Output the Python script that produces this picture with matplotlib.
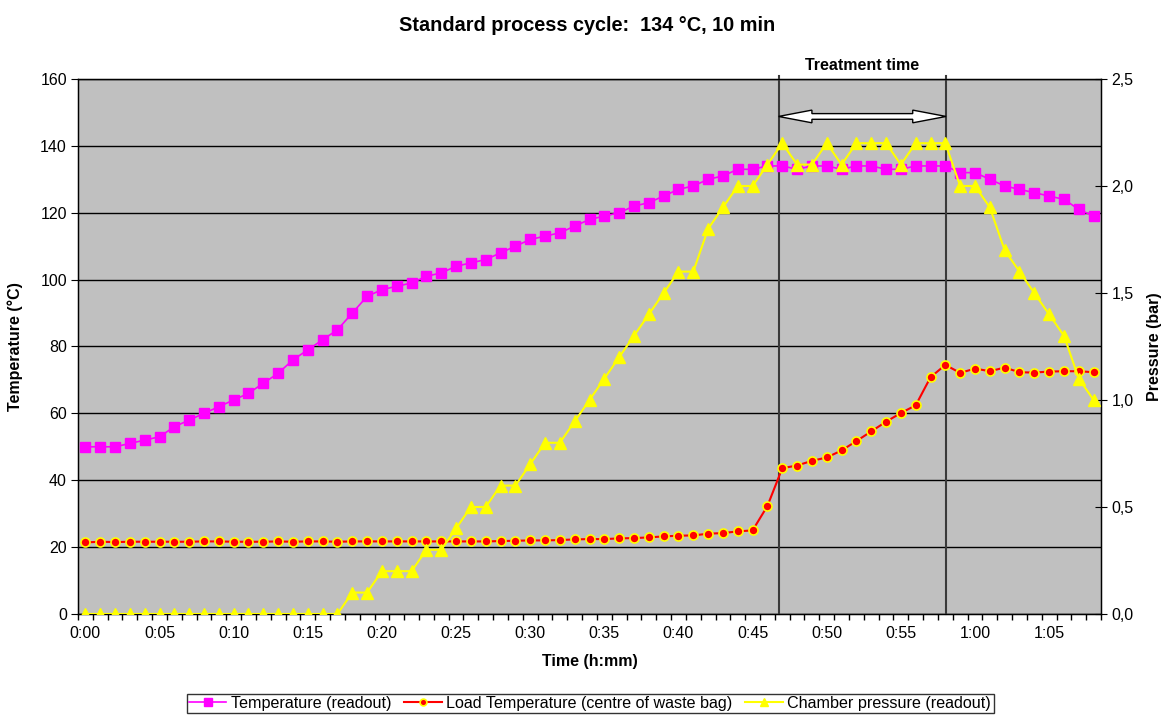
import matplotlib
matplotlib.use("Agg")
import matplotlib.pyplot as plt
from matplotlib.patches import Polygon
from matplotlib.ticker import FuncFormatter, MultipleLocator

plt.rcParams['font.family'] = ['Liberation Sans', 'DejaVu Sans']

# one reading per minute, 0:00 .. 1:08
minutes = list(range(69))
tick_minutes = [0, 5, 10, 15, 20, 25, 30, 35, 40, 45, 50, 55, 60, 65]
tick_labels = ["0:00", "0:05", "0:10", "0:15", "0:20", "0:25", "0:30",
               "0:35", "0:40", "0:45", "0:50", "0:55", "1:00", "1:05"]

temp_readout = [50, 50, 50, 51, 52, 53, 56, 58, 60, 62, 64, 66, 69, 72, 76, 79, 82, 85,
                90, 95, 97, 98,
                99, 101, 102, 104, 105, 106, 108, 110, 112, 113, 114, 116, 118, 119, 120,
                122, 123, 125, 127, 128, 130, 131, 133, 133, 134, 134, 133,
                134, 134, 133, 134, 134, 133, 133, 134, 134, 134,
                132, 132, 130, 128, 127, 126, 125, 124, 121, 119]

load_temp = [21.4, 21.6, 21.5, 21.6, 21.6, 21.6, 21.6, 21.6, 21.7, 21.7,
             21.6, 21.6, 21.6, 21.7, 21.6, 21.7, 21.7, 21.6, 21.7, 21.7,
             21.7, 21.7, 21.7, 21.7, 21.7, 21.7, 21.7, 21.7, 21.8, 21.9,
             22.0, 22.0, 22.1, 22.3, 22.4, 22.4, 22.6, 22.7, 22.9, 23.2,
             23.4, 23.5, 24.0, 24.2, 24.7, 25.0, 32.3, 43.6, 44.4, 45.8,
             46.8, 48.9, 51.7, 54.6, 57.5, 60.1, 62.4, 70.8, 74.5, 72.1,
             73.4, 72.6, 73.7, 72.3, 72.2, 72.5, 72.6, 72.6, 72.3]

pressure = [0, 0, 0, 0, 0, 0, 0, 0, 0, 0, 0, 0, 0, 0, 0, 0, 0, 0,
            0.1, 0.1, 0.2, 0.2, 0.2, 0.3, 0.3, 0.4, 0.5, 0.5, 0.6, 0.6,
            0.7, 0.8, 0.8, 0.9, 1.0, 1.1, 1.2, 1.3, 1.4, 1.5, 1.6, 1.6,
            1.8, 1.9, 2.0, 2.0, 2.1, 2.2, 2.1, 2.1, 2.2, 2.1, 2.2, 2.2,
            2.2, 2.1, 2.2, 2.2, 2.2, 2.0, 2.0, 1.9, 1.7, 1.6, 1.5, 1.4,
            1.3, 1.1, 1.0]

treat_start = 46.75
treat_end = 58.05
arrow_level = 148.8

fig = plt.figure(figsize=(11.64, 7.15), dpi=100)
ax = fig.add_axes([0.067, 0.1413, 0.8789, 0.7482])
ax.set_facecolor('#C0C0C0')

ax.plot(minutes, temp_readout, color='#FF00FF', lw=1.2, marker='s', ms=7.5,
        mec='#FF00FF', mfc='#FF00FF', zorder=4, label='Temperature (readout)')
ax.plot(minutes, load_temp, color='#FF0000', lw=1.5, marker='o', ms=6.5,
        mfc='#FF0000', mec='#FFFF00', mew=1.2, zorder=5,
        label='Load Temperature (centre of waste bag)')

ax.set_xlim(-0.5, 68.5)
ax.set_ylim(0, 160)
ax.set_yticks(range(0, 161, 20))
ax.yaxis.grid(True, color='black', lw=1)
ax.set_axisbelow(True)
ax.set_xticks(tick_minutes)
ax.set_xticklabels(tick_labels)
ax.xaxis.set_minor_locator(MultipleLocator(1, offset=0.5))
ax.tick_params(axis='x', which='major', length=0, labelsize=11.5, pad=9)
ax.tick_params(axis='x', which='minor', length=4, direction='out', width=1)
ax.tick_params(axis='y', length=5, direction='out', labelsize=11.5, pad=3)
for sp in ax.spines.values():
    sp.set_color('black')
    sp.set_linewidth(1)

# treatment window
for xv in (treat_start, treat_end):
    ax.axvline(xv, ymax=1.005, color='#3A3A3A', lw=1.5, zorder=3, clip_on=False)
head_len = 2.25
head_h = 1.9
shaft_h = 0.85
arrow = Polygon([(treat_start, arrow_level),
                 (treat_start + head_len, arrow_level + head_h),
                 (treat_start + head_len, arrow_level + shaft_h),
                 (treat_end - head_len, arrow_level + shaft_h),
                 (treat_end - head_len, arrow_level + head_h),
                 (treat_end, arrow_level),
                 (treat_end - head_len, arrow_level - head_h),
                 (treat_end - head_len, arrow_level - shaft_h),
                 (treat_start + head_len, arrow_level - shaft_h),
                 (treat_start + head_len, arrow_level - head_h)],
                closed=True, facecolor='white', edgecolor='black', lw=1, zorder=6)
ax.add_patch(arrow)
ax.text((treat_start + treat_end) / 2, 1.012, 'Treatment time', transform=ax.get_xaxis_transform(),
        ha='center', va='bottom', fontsize=11.5, fontweight='bold')

ax.set_xlabel('Time (h:mm)', fontsize=11.5, fontweight='bold', labelpad=9)
ax.set_ylabel('Temperature (°C)', fontsize=11.5, fontweight='bold', labelpad=12)

ax2 = ax.twinx()
ax2.plot(minutes, pressure, color='#FFFF00', lw=1.5, marker='^', ms=8,
         mfc='#FFFF00', mec='#FFFF00', zorder=5, label='Chamber pressure (readout)')
ax2.set_ylim(0, 2.5)
ax2.set_yticks([0, 0.5, 1.0, 1.5, 2.0, 2.5])
ax2.yaxis.set_major_formatter(FuncFormatter(lambda v, p: f"{v:.1f}".replace('.', ',')))
ax2.tick_params(axis='y', length=9, direction='inout', labelsize=11.5, pad=3)
ax2.set_ylabel('Pressure (bar)', fontsize=11.5, fontweight='bold', labelpad=10)
for sp in ax2.spines.values():
    sp.set_color('black')

fig.suptitle('Standard process cycle:  134 °C, 10 min', x=0.504, y=0.978,
             fontsize=14.3, fontweight='bold')

h1, l1 = ax.get_legend_handles_labels()
h2, l2 = ax2.get_legend_handles_labels()
leg = fig.legend(h1 + h2, l1 + l2, loc='lower center', bbox_to_anchor=(0.507, 0.0),
                 ncol=3, fontsize=11.6, frameon=True, fancybox=False, edgecolor='black',
                 handlelength=2.3, handletextpad=0.3, columnspacing=0.8,
                 borderpad=0.15, borderaxespad=0.1, markerscale=0.75)
leg.get_frame().set_linewidth(1)

fig.savefig('out.png', dpi=100, facecolor='white')
